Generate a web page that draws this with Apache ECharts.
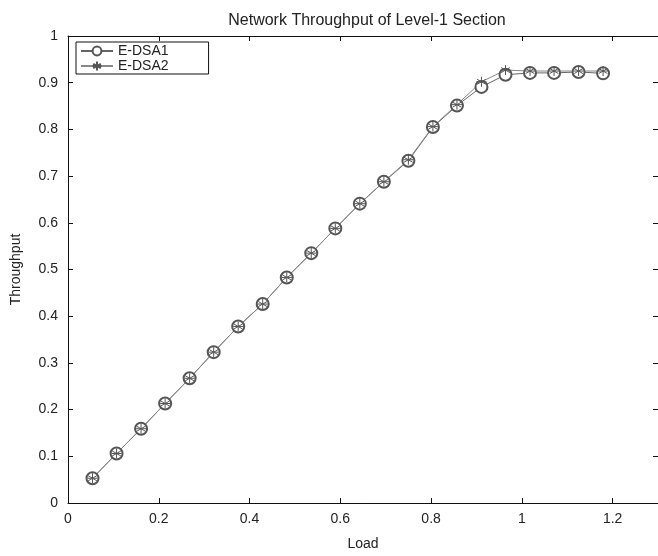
<!DOCTYPE html>
<html>
<head>
<meta charset="utf-8">
<script src="https://cdn.jsdelivr.net/npm/echarts@6/dist/echarts.min.js"></script>
<style>
html,body{margin:0;padding:0;background:#fff;}
#c{width:658px;height:556px;}
</style>
</head>
<body>
<div id="c"></div>
<script>
const titleText = 'Network Throughput of Level-1 Section';
const xName = 'Load';
const yName = 'Throughput';
const seriesNames = ['E-DSA1', 'E-DSA2'];
const load = [0.054, 0.107, 0.161, 0.214, 0.268, 0.321, 0.375, 0.429, 0.482, 0.536, 0.589,
              0.643, 0.696, 0.750, 0.804, 0.857, 0.911, 0.964, 1.018, 1.071, 1.125, 1.179];
const dsa1 = [0.053, 0.106, 0.159, 0.213, 0.267, 0.323, 0.378, 0.426, 0.483, 0.535, 0.588,
              0.641, 0.688, 0.733, 0.805, 0.851, 0.891, 0.917, 0.921, 0.921, 0.923, 0.920];
const dsa2 = [0.053, 0.106, 0.159, 0.213, 0.267, 0.323, 0.378, 0.426, 0.483, 0.535, 0.588,
              0.641, 0.688, 0.735, 0.806, 0.853, 0.902, 0.927, 0.925, 0.925, 0.925, 0.925];
const xTicks = [0, 0.2, 0.4, 0.6, 0.8, 1, 1.2];
const yTicks = [0, 0.1, 0.2, 0.3, 0.4, 0.5, 0.6, 0.7, 0.8, 0.9, 1];

const star = 'path://M0,-5L0,5M-4.33,-2.5L4.33,2.5M-4.33,2.5L4.33,-2.5M-5,0L5,0';
const font = 'Liberation Sans';

const chart = echarts.init(document.getElementById('c'), null, {renderer: 'canvas'});
const pairs = (xs, ys) => xs.map((x, i) => [x, ys[i]]);

const axisCommon = {
  axisLine: {show: true, onZero: false, lineStyle: {color: '#111', width: 1}},
  axisTick: {show: true, inside: true, length: 5, lineStyle: {color: '#111'}},
  splitLine: {show: false}
};

chart.setOption({
  animation: false,
  backgroundColor: '#fff',
  title: {
    text: titleText, left: 362, top: 8, textAlign: 'center',
    textStyle: {fontFamily: font, fontSize: 16, fontWeight: 'normal', color: '#222'}
  },
  grid: {left: 68, top: 36, right: -2, bottom: 50},
  legend: {
    orient: 'vertical', left: 76, top: 42,
    backgroundColor: '#fff', borderColor: '#111', borderWidth: 1, borderRadius: 0,
    padding: [2, 40, 1, 4], itemGap: 1, itemWidth: 32, itemHeight: 11,
    textStyle: {fontFamily: font, fontSize: 14, color: '#222', lineHeight: 12},
    data: seriesNames
  },
  xAxis: [
    Object.assign({}, axisCommon, {
      type: 'value', min: 0, max: 1.3, interval: 0.2, position: 'bottom',
      name: xName, nameLocation: 'middle', nameGap: 34,
      nameTextStyle: {fontFamily: font, fontSize: 14, color: '#222'},
      axisLabel: {fontFamily: font, fontSize: 14, color: '#222', margin: 9, showMaxLabel: false,
        formatter: v => xTicks.some(t => Math.abs(t - v) < 1e-9) ? String(+v.toFixed(1)) : ''}
    }),
    Object.assign({}, axisCommon, {
      type: 'value', min: 0, max: 1.3, interval: 0.2, position: 'top',
      axisLabel: {show: false}
    })
  ],
  yAxis: [
    Object.assign({}, axisCommon, {
      type: 'value', min: 0, max: 1, interval: 0.1, position: 'left',
      name: yName, nameLocation: 'middle', nameGap: 45,
      nameTextStyle: {fontFamily: font, fontSize: 14, color: '#222'},
      axisLabel: {fontFamily: font, fontSize: 14, color: '#222', margin: 10,
        formatter: v => String(+v.toFixed(1))}
    }),
    Object.assign({}, axisCommon, {
      type: 'value', min: 0, max: 1, interval: 0.1, position: 'right',
      axisLabel: {show: false}
    })
  ],
  series: [
    {
      name: seriesNames[0], type: 'line', data: pairs(load, dsa1),
      symbol: 'emptyCircle', symbolSize: 12, showAllSymbol: true,
      lineStyle: {color: '#666', width: 1},
      itemStyle: {color: '#555', borderColor: '#555', borderWidth: 1}
    },
    {
      name: seriesNames[1], type: 'line', data: pairs(load, dsa2),
      symbol: star, symbolSize: 10, showAllSymbol: true,
      lineStyle: {color: '#888', width: 1},
      itemStyle: {color: 'none', borderColor: '#555', borderWidth: 1}
    }
  ]
});
</script>
</body>
</html>
